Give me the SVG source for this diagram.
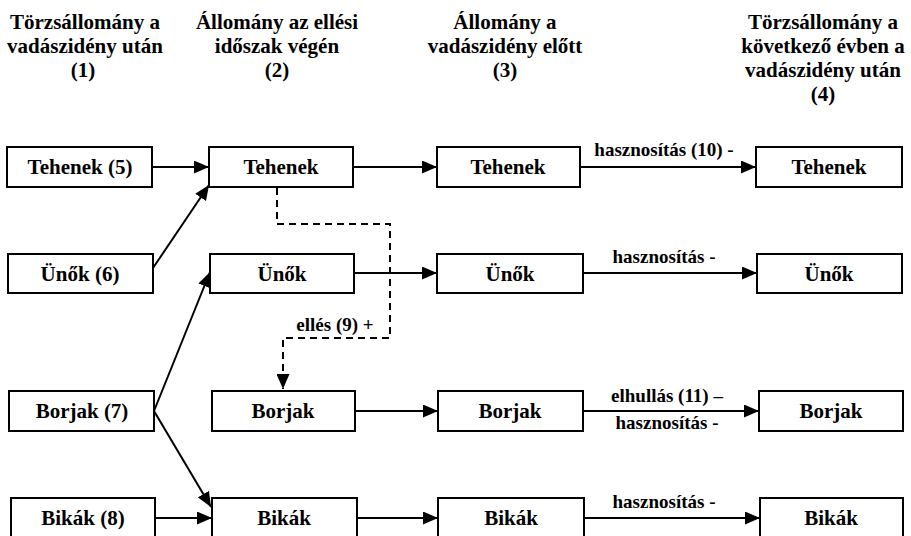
<svg xmlns="http://www.w3.org/2000/svg" width="911" height="536" viewBox="0 0 911 536">
<style>
text{font-family:'Times New Roman',Times,Tinos,'Nimbus Roman','Nimbus Roman No9 L','FreeSerif','Noto Serif','Liberation Serif','DejaVu Serif',serif;font-weight:700;fill:#000;text-anchor:middle}
.h{font-size:21px}
.n{font-size:21px}
.l{font-size:19px}
rect{fill:#fff;stroke:#000;stroke-width:2}
.c{fill:none;stroke:#000;stroke-width:2;marker-end:url(#ah)}
.d{fill:none;stroke:#000;stroke-width:2;stroke-dasharray:7 5;marker-end:url(#ah)}
</style>
<defs>
<marker id="ah" markerUnits="userSpaceOnUse" markerWidth="15" markerHeight="13" refX="15" refY="6.5" orient="auto" viewBox="0 0 15 13">
<path d="M0,0 L15,6.5 L0,13 z" fill="#000"/>
</marker>
</defs>
<rect width="911" height="536" style="stroke:none"/>
<g id="headers">
<text class="h" x="85" y="29">Törzsállomány a</text>
<text class="h" x="85" y="53">vadászidény után</text>
<text class="h" x="83" y="77">(1)</text>
<text class="h" x="277" y="29">Állomány az ellési</text>
<text class="h" x="277" y="53">időszak végén</text>
<text class="h" x="277" y="77">(2)</text>
<text class="h" x="505" y="29">Állomány a</text>
<text class="h" x="505" y="53">vadászidény előtt</text>
<text class="h" x="505" y="77">(3)</text>
<text class="h" x="823" y="29">Törzsállomány a</text>
<text class="h" x="823" y="53">következő évben a</text>
<text class="h" x="823" y="77">vadászidény után</text>
<text class="h" x="823" y="101">(4)</text>
</g>
<g id="connectors">
<line class="c" x1="152" y1="167" x2="209" y2="167"/>
<line class="c" x1="153" y1="268" x2="209" y2="185"/>
<line class="c" x1="353" y1="167" x2="437" y2="167"/>
<line class="c" x1="580" y1="167" x2="756" y2="167"/>
<line class="c" x1="354" y1="273" x2="437" y2="273"/>
<line class="c" x1="583" y1="273" x2="757" y2="273"/>
<line class="c" x1="154" y1="411" x2="210" y2="272"/>
<line class="c" x1="154" y1="411" x2="211" y2="507"/>
<line class="c" x1="355" y1="411" x2="438" y2="411"/>
<line class="c" x1="583" y1="411" x2="759" y2="411"/>
<line class="c" x1="155" y1="518" x2="212" y2="518"/>
<line class="c" x1="357" y1="518" x2="438" y2="518"/>
<line class="c" x1="584" y1="518" x2="760" y2="518"/>
<path class="d" d="M277,188 V224 H390 V338 H283 V389"/>
<text class="l" x="664" y="156">hasznosítás (10) -</text>
<text class="l" x="664" y="263">hasznosítás -</text>
<text class="l" x="335" y="331">ellés (9) +</text>
<text class="l" x="667" y="402">elhullás (11) –</text>
<text class="l" x="667" y="429">hasznosítás -</text>
<text class="l" x="664" y="508">hasznosítás -</text>
</g>
<g id="n-tehenek5"><rect x="7" y="147" width="145" height="40"/><text class="n" x="80" y="174">Tehenek (5)</text></g>
<g id="n-unok6"><rect x="8" y="254" width="145" height="39"/><text class="n" x="80" y="281">Ünők (6)</text></g>
<g id="n-borjak7"><rect x="9" y="391" width="145" height="40"/><text class="n" x="82" y="418">Borjak (7)</text></g>
<g id="n-bikak8"><rect x="11" y="498" width="144" height="42"/><text class="n" x="83" y="525">Bikák (8)</text></g>
<g id="n-tehenek2"><rect x="209" y="147" width="144" height="40"/><text class="n" x="281" y="174">Tehenek</text></g>
<g id="n-unok2"><rect x="210" y="254" width="144" height="39"/><text class="n" x="282" y="281">Ünők</text></g>
<g id="n-borjak2"><rect x="212" y="391" width="143" height="40"/><text class="n" x="283" y="418">Borjak</text></g>
<g id="n-bikak2"><rect x="212" y="498" width="145" height="42"/><text class="n" x="284" y="525">Bikák</text></g>
<g id="n-tehenek3"><rect x="437" y="147" width="143" height="40"/><text class="n" x="508" y="174">Tehenek</text></g>
<g id="n-unok3"><rect x="437" y="254" width="146" height="39"/><text class="n" x="510" y="281">Ünők</text></g>
<g id="n-borjak3"><rect x="438" y="391" width="145" height="40"/><text class="n" x="510" y="418">Borjak</text></g>
<g id="n-bikak3"><rect x="438" y="498" width="146" height="42"/><text class="n" x="511" y="525">Bikák</text></g>
<g id="n-tehenek4"><rect x="756" y="147" width="146" height="40"/><text class="n" x="829" y="174">Tehenek</text></g>
<g id="n-unok4"><rect x="757" y="254" width="145" height="39"/><text class="n" x="829" y="281">Ünők</text></g>
<g id="n-borjak4"><rect x="759" y="391" width="144" height="40"/><text class="n" x="831" y="418">Borjak</text></g>
<g id="n-bikak4"><rect x="760" y="498" width="143" height="42"/><text class="n" x="831" y="525">Bikák</text></g>
</svg>
